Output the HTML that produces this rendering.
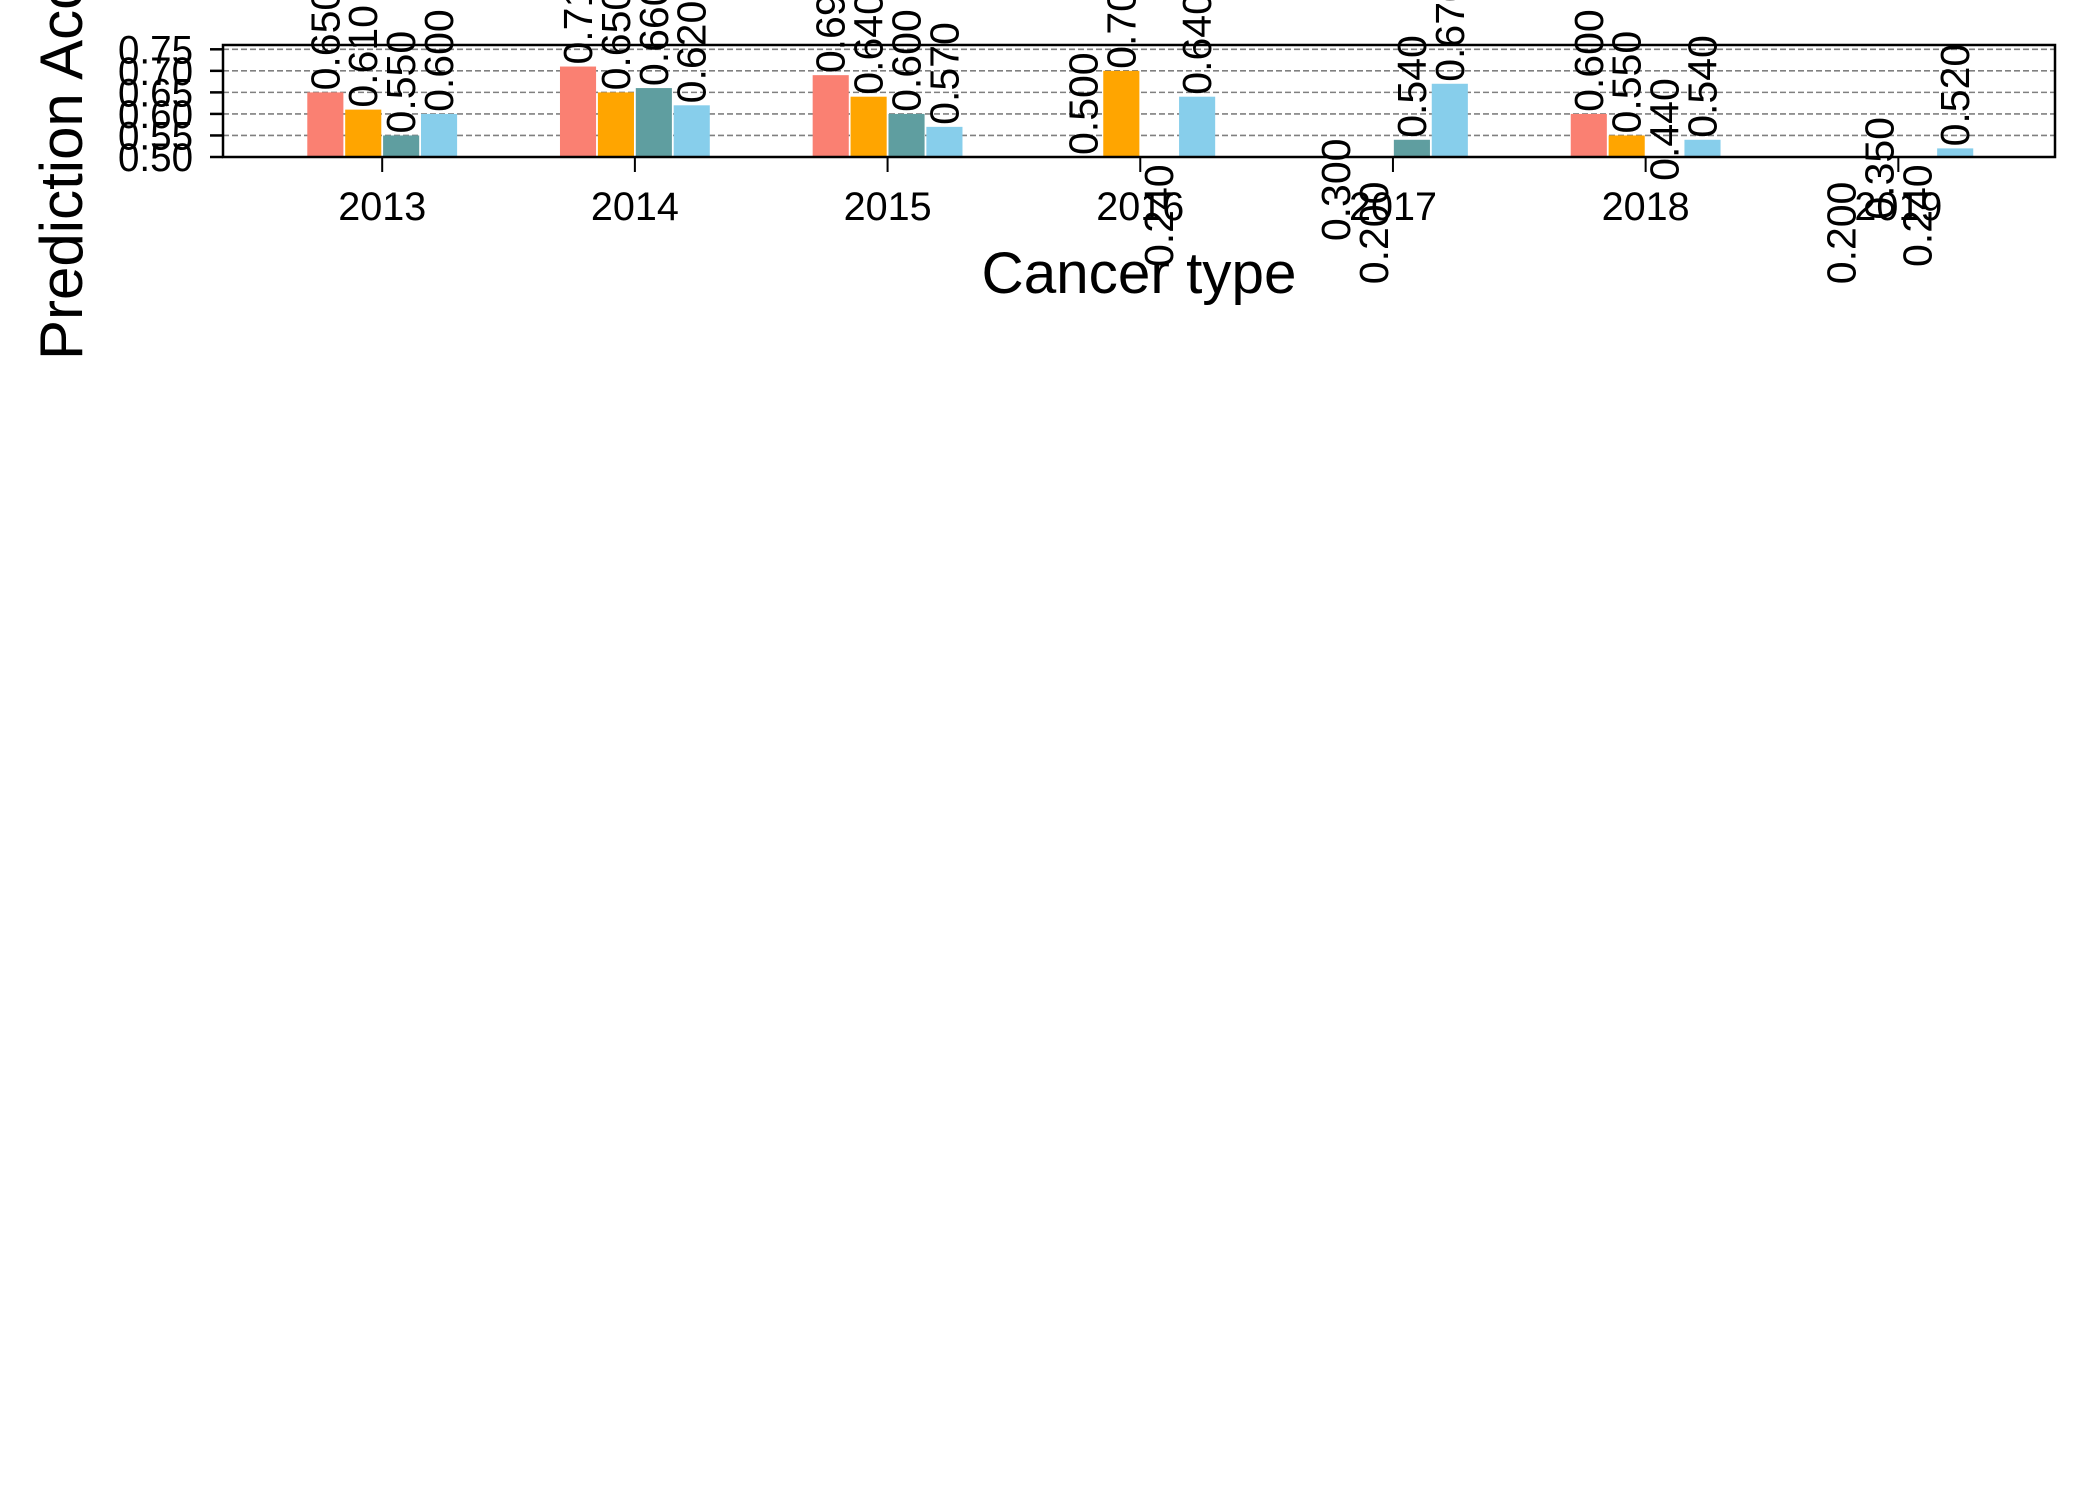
<!DOCTYPE html>
<html><head><meta charset="utf-8"><style>
html,body{margin:0;padding:0;background:#fff;}
svg{display:block;}
text{font-family:"Liberation Sans",sans-serif;fill:#000;}
</style></head><body>
<svg id="chart" width="2100" height="1500" viewBox="0 0 2100 1500" xmlns="http://www.w3.org/2000/svg">
<rect x="0" y="0" width="2100" height="1500" fill="#fff"/>
<g id="grid"></g>
<g id="bars"></g>
<g id="labels"></g>
<g id="axes"></g>
</svg>
<script>
const categories = ["2013","2014","2015","2016","2017","2018","2019"];
const seriesA = [0.65,0.71,0.69,0.50,0.30,0.60,0.20];
const seriesB = [0.61,0.65,0.64,0.70,0.20,0.55,0.35];
const seriesC = [0.55,0.66,0.60,0.24,0.54,0.44,0.24];
const seriesD = [0.60,0.62,0.57,0.64,0.67,0.54,0.52];
const labelsA = ["0.650","0.710","0.690","0.500","0.300","0.600","0.200"];
const labelsB = ["0.610","0.650","0.640","0.700","0.200","0.550","0.350"];
const labelsC = ["0.550","0.660","0.600","0.240","0.540","0.440","0.240"];
const labelsD = ["0.600","0.620","0.570","0.640","0.670","0.540","0.520"];
const yTicks = [0.50,0.55,0.60,0.65,0.70,0.75];
const yTickLabels = ["0.50","0.55","0.60","0.65","0.70","0.75"];
const series = [seriesA,seriesB,seriesC,seriesD];
const seriesLabels = [labelsA,labelsB,labelsC,labelsD];
const colors = ["#fa8072","#ffa500","#5f9ea0","#87ceeb"];

const NS="http://www.w3.org/2000/svg";
const L=223,R=2055,T=45,B=157;
const yMin=0.50,yMax=0.76;
function yPos(v){return B-(v-yMin)/(yMax-yMin)*(B-T);}
const xMin=-0.63,xMax=categories.length-1+0.62;
function xPos(i){return L+(i-xMin)/(xMax-xMin)*(R-L);}
const step=xPos(1)-xPos(0);
const barW=step*0.6/4;
function mk(tag,attrs,parent){const e=document.createElementNS(NS,tag);for(const k in attrs)e.setAttribute(k,attrs[k]);parent.appendChild(e);return e;}

const grid=document.getElementById('grid');
yTicks.forEach((t,i)=>{ if(t<=yMin) return;
  const ln=mk('line',{x1:L,x2:R,y1:yPos(t),y2:yPos(t),stroke:'#808080','stroke-width':1.6,'stroke-dasharray':'6,3'},grid);
  
  
});

const bars=document.getElementById('bars');
const labs=document.getElementById('labels');
series.forEach((s,si)=>{
  s.forEach((v,i)=>{
    const x0=xPos(i)-2*barW+si*barW;
    if(v>yMin){
      const r=mk('rect',{x:x0+0.9,y:yPos(v),width:barW-1.8,height:B-yPos(v),fill:colors[si]},bars);
      
      
    }
    const cx=x0+barW/2, cy=yPos(v)-2;
    const t=mk('text',{x:cx,y:cy,'font-size':41,transform:'rotate(-90 '+cx+' '+cy+')','dominant-baseline':'central'},labs);
    t.textContent=seriesLabels[si][i];
    
    
  });
});

const axes=document.getElementById('axes');
const frame=mk('rect',{x:L,y:T,width:R-L,height:B-T,fill:'none',stroke:'#000','stroke-width':2.5},axes);


yTicks.forEach((t,i)=>{
  const tk=mk('line',{x1:L-13,x2:L,y1:yPos(t),y2:yPos(t),stroke:'#000','stroke-width':2.5},axes);
  
  
  const tl=mk('text',{x:L-30,y:yPos(t)+14,'font-size':40,'text-anchor':'end',textLength:75,lengthAdjust:'spacingAndGlyphs'},axes);
  tl.textContent=yTickLabels[i];
  
  
});
categories.forEach((c,i)=>{
  const tk=mk('line',{x1:xPos(i),x2:xPos(i),y1:B,y2:B+15,stroke:'#000','stroke-width':2},axes);
  
  
  const tl=mk('text',{x:xPos(i),y:220,'font-size':40,'text-anchor':'middle',textLength:88,lengthAdjust:'spacingAndGlyphs'},axes);
  tl.textContent=c;
  
  
});
const xt=mk('text',{x:(L+R)/2,y:293,'font-size':58,'text-anchor':'middle',textLength:315,lengthAdjust:'spacingAndGlyphs'},axes);
xt.textContent='Cancer type';


const yt=mk('text',{x:0,y:0,'font-size':60,transform:'translate(82 360) rotate(-90)'},axes);
yt.textContent='Prediction Accuracy';


</script>
</body></html>
